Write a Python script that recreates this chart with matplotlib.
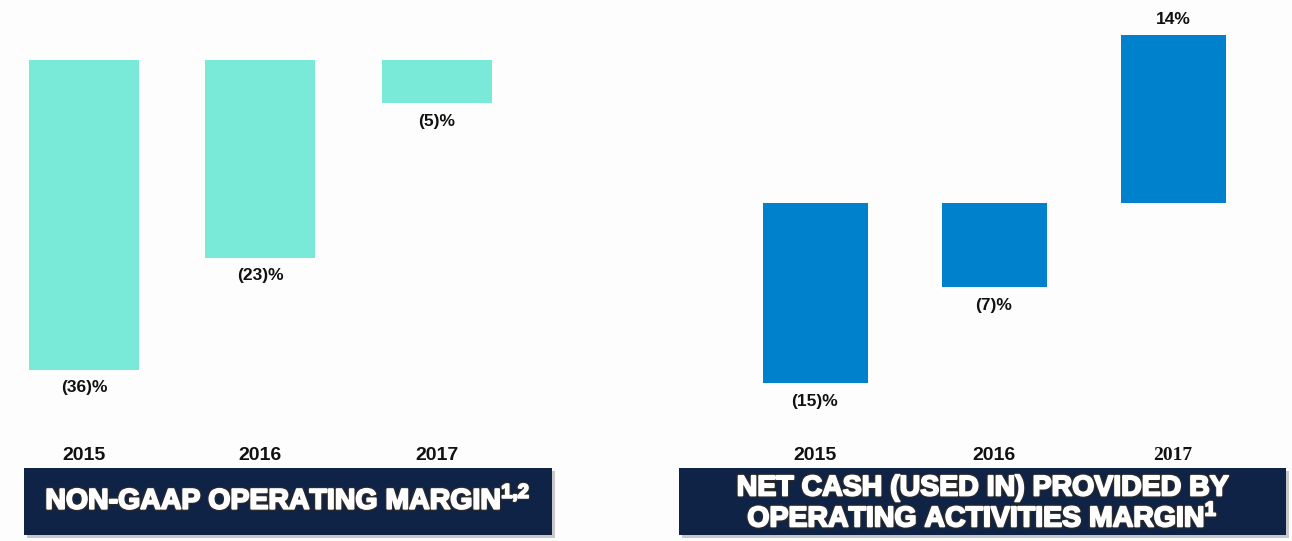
import matplotlib
matplotlib.use("Agg")
import matplotlib.pyplot as plt
from matplotlib.patches import Rectangle
import matplotlib.patheffects as pe

plt.rcParams['font.family'] = ['Liberation Sans', 'DejaVu Sans']
plt.rcParams['mathtext.fontset'] = 'custom'
plt.rcParams['mathtext.bf'] = 'Liberation Sans:bold'
plt.rcParams['mathtext.rm'] = 'Liberation Sans:bold'

years = ["2015", "2016", "2017"]
op_margin = [-36, -23, -5]
cash_margin = [-15, -7, 14]
op_labels = ["(36)%", "(23)%", "(5)%"]
cash_labels = ["(15)%", "(7)%", "14%"]
left_title = r"NON-GAAP OPERATING MARGIN$^{\mathbf{1{,}2}}$"
right_title = "NET CASH (USED IN) PROVIDED BY\n" + r"OPERATING ACTIVITIES MARGIN$^{\mathbf{1}}$"

W, H = 1292, 541
fig = plt.figure(figsize=(W / 100, H / 100), dpi=100)
fig.patch.set_facecolor('#FDFDFD')

def fx(px):
    return px / W

def fy(py):
    return 1 - py / H

teal = '#7AEAD8'
blue = '#0081CC'
navy = '#0F2347'

def panel(x0, x1, y0, y1, vals, labels, color, width, ylim):
    ax = fig.add_axes([fx(x0), fy(y1), fx(x1 - x0), (y1 - y0) / H])
    ax.set_facecolor('none')
    xs = list(range(len(vals)))
    ax.bar(xs, vals, width=width, color=color, edgecolor='none')
    for x, v, lab in zip(xs, vals, labels):
        off = 11.5 if v > 0 else -13
        ax.annotate(lab, (x, v), xytext=(0, off), textcoords='offset points',
                    ha='center', va='center', fontsize=12.5, fontweight='bold',
                    color='#111111')
    ax.set_xlim(-0.45, 2.45)
    ax.set_ylim(*ylim)
    ax.set_xticks(xs)
    ax.set_xticklabels(years, fontsize=14, fontweight='bold', color='#111111')
    ax.tick_params(axis='x', length=0, pad=18.5)
    ax.set_yticks([])
    for s in ax.spines.values():
        s.set_visible(False)
    return ax

# left: zero at px 60, 8.6 px per pct; spans px 0..421
axl = panel(84 - 0.45 * 176.5, 84 + 2.45 * 176.5, 0, 421, op_margin, op_labels,
            teal, 110 / 176.5, (-(421 - 60) / 8.6, 60 / 8.6))
# right: zero at px 203, 12 px per pct
axr = panel(815 - 0.45 * 179, 815 + 2.45 * 179, 0, 421, cash_margin, cash_labels,
            blue, 105 / 179, (-(421 - 203) / 12.0, 203 / 12.0))
axr.get_xticklabels()[2].set_fontfamily(['Liberation Serif'])

def title_box(x0, x1, y0, y1, text, fs, yc):
    fig.patches.append(Rectangle((fx(x0 + 3), fy(y1 + 3)), fx(x1 - x0), (y1 - y0) / H,
                                 transform=fig.transFigure, facecolor='#C8C8C8',
                                 edgecolor='none', zorder=0))
    fig.patches.append(Rectangle((fx(x0), fy(y1)), fx(x1 - x0), (y1 - y0) / H,
                                 transform=fig.transFigure, facecolor=navy,
                                 edgecolor='none', zorder=1))
    fig.text(fx((x0 + x1) / 2), fy(yc), text, ha='center', va='center',
             fontsize=fs, fontweight='bold', color='white', linespacing=1.05,
             path_effects=[pe.withStroke(linewidth=3.2, foreground='#2A2A2A'),
                           pe.withStroke(linewidth=1.4, foreground='white')],
             zorder=2)

title_box(24, 552, 468, 535, left_title, 20.5, 500)
title_box(679, 1286, 468, 535, right_title, 20.5, 504)

fig.savefig('out.png', dpi=100, facecolor=fig.get_facecolor())
